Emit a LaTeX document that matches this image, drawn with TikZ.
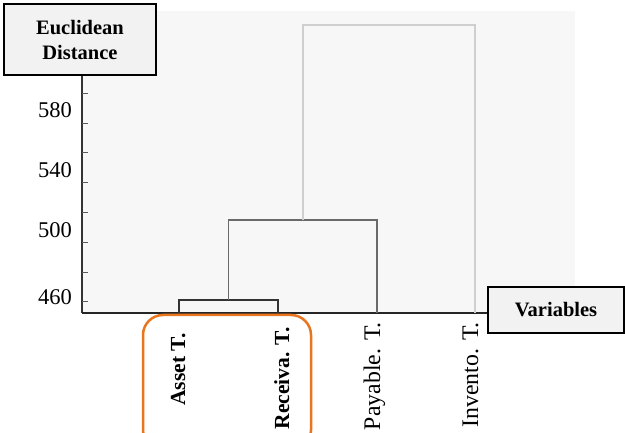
\documentclass[tikz,border=0pt]{standalone}
\usepackage{fontspec}
\setmainfont{Liberation Serif}
\definecolor{plotbg}{HTML}{F7F7F7}
\definecolor{boxbg}{HTML}{F2F2F2}
\definecolor{lowlink}{HTML}{333333}
\definecolor{midlink}{HTML}{6A6A6A}
\definecolor{toplink}{HTML}{CFCFCF}
\definecolor{hilite}{HTML}{E8761E}
\begin{document}
\begin{tikzpicture}[x=1pt,y=-1pt,
  titlebox/.style={draw=black,line width=1.8pt,fill=boxbg,font=\bfseries\fontsize{20.5}{25}\selectfont,align=center,inner sep=0pt},
  ticklabel/.style={anchor=east,inner sep=0pt,font=\fontsize{22.5}{24}\selectfont},
  leafbold/.style={rotate=90,anchor=base east,inner sep=0pt,font=\bfseries\fontsize{21.5}{23}\selectfont},
  leafplain/.style={rotate=90,anchor=base east,inner sep=0pt,font=\fontsize{23.8}{26}\selectfont},
  axisline/.style={draw=lowlink,line width=1.7pt},
  tickmark/.style={draw=black!65,line width=1pt}]
\useasboundingbox (0,0) rectangle (625,433);

% plotting area
\fill[plotbg] (82,11) rectangle (575,313);

% axes
\coordinate (yaxtop) at (82,75);
\coordinate (origin) at (82,313);
\coordinate (xaxend) at (490,313);
\draw[axisline] (yaxtop) -- (origin);
\draw[draw=black!85,line width=1.3pt] (origin) -- (xaxend);

% tick marks
\foreach \ty in {94,124,153,183,213,243,273,302}
  \draw[tickmark] (82,\ty) -- (88,\ty);

% tick labels
\node[ticklabel] (t580) at (72,110) {580};
\node[ticklabel] (t540) at (72,170) {540};
\node[ticklabel] (t500) at (72,230) {500};
\node[ticklabel] (t460) at (72,297) {460};

% axis titles
\node[titlebox,minimum width=152pt,minimum height=71pt] (ytitle) at (80,39.5) {Euclidean\\Distance};
\node[titlebox,minimum width=136pt,minimum height=46pt] (xtitle) at (556,310) {Variables};

% dendrogram leaves and merge points
\coordinate (asset) at (179,313);
\coordinate (recv) at (278,313);
\coordinate (pay) at (377,313);
\coordinate (inv) at (475,313);
\coordinate (m1) at (228.5,300);
\coordinate (m2) at (303,220);

\draw[lowlink,line width=1.5pt] (asset) |- (m1) -| (recv);
\draw[midlink,line width=1.5pt] (m1) |- (m2) -| (pay);
\draw[toplink,line width=2pt] (m2) |- (390,25) -| (inv);

% leaf labels
\node[leafbold] (lasset) at (185,333) {Asset T.};
\node[leafbold] (lrecv) at (289,327) {Receiva. T.};
\node[leafplain] (lpay) at (380,322) {Payable. T.};
\node[leafplain] (linv) at (478,322) {Invento. T.};

% highlighted pair
\draw[hilite,line width=2.5pt,rounded corners=20pt] (143,315) rectangle (311,450);
\end{tikzpicture}
\end{document}
